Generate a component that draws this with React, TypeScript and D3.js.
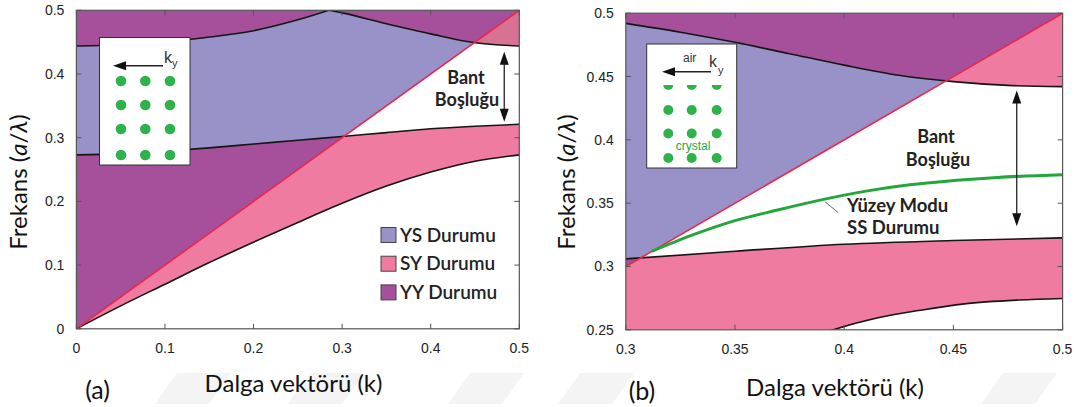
import React from 'react';
import * as d3 from 'd3';

type Pt = [number, number];

// Fill colours for the three kinds of states
const COLOR_YS = '#9892c8';
const COLOR_SY = '#ef7ba1';
const COLOR_SY_TOP_A = '#d87293';
const COLOR_YY = '#a64f9b';
const COLOR_LIGHT = '#e8284c';
const COLOR_SURFACE = '#25a63d';
const COLOR_DOT = '#2db34a';

// ---- Panel (a): full projected band structure ----
const kA = [0, 0.05, 0.1, 0.15, 0.2, 0.25, 0.3, 0.35, 0.4, 0.45, 0.5];
const lowerA = [0, 0.036, 0.07, 0.104, 0.136, 0.167, 0.197, 0.224, 0.246, 0.263, 0.273];
const midA = [0.273, 0.275, 0.279, 0.284, 0.29, 0.296, 0.302, 0.308, 0.314, 0.318, 0.321];
const kTopA1 = [0, 0.05, 0.1, 0.15, 0.2, 0.25, 0.285];
const topA1 = [0.444, 0.446, 0.45, 0.458, 0.468, 0.485, 0.5];
const kTopA2 = [0.285, 0.3, 0.35, 0.4, 0.45, 0.5];
const topA2 = [0.5, 0.496, 0.479, 0.463, 0.449, 0.444];
const ticksKA = [0, 0.1, 0.2, 0.3, 0.4, 0.5];
const ticksFA = [0, 0.1, 0.2, 0.3, 0.4, 0.5];
const gapArrowA = { k: 0.483, f0: 0.325, f1: 0.435 };

// ---- Panel (b): close-up with the surface mode ----
const kTopB = [0.3, 0.325, 0.35, 0.375, 0.4, 0.425, 0.45, 0.475, 0.5];
const topB = [0.492, 0.485, 0.477, 0.468, 0.459, 0.451, 0.446, 0.443, 0.442];
const kMidB = [0.3, 0.35, 0.4, 0.45, 0.5];
const midB = [0.306, 0.312, 0.3175, 0.3205, 0.3226];
const kLowB = [0.385, 0.395, 0.415, 0.435, 0.455, 0.48, 0.5];
const lowB = [0.244, 0.25, 0.2593, 0.2655, 0.2705, 0.2735, 0.2747];
const kSurf = [0.312, 0.33, 0.35, 0.37, 0.39, 0.41, 0.43, 0.45, 0.47, 0.5];
const surf = [0.312, 0.3245, 0.3362, 0.3448, 0.3528, 0.3595, 0.3645, 0.3678, 0.3703, 0.3725];
const ticksKB = [0.3, 0.35, 0.4, 0.45, 0.5];
const ticksFB = [0.25, 0.3, 0.35, 0.4, 0.45, 0.5];
const gapArrowB = { k: 0.479, f0: 0.3317, f1: 0.439 };

const legendItems = ['YS Durumu', 'SY Durumu', 'YY Durumu'];
const legendColors = [COLOR_YS, COLOR_SY, COLOR_YY];

const BIG_FONT = 'Lato, "Open Sans", sans-serif';
const TICK_FONT = '"Liberation Sans", Arial, sans-serif';

const zip = (ks: number[], fs: number[]): Pt[] => ks.map((k, i) => [k, fs[i]] as Pt);

interface PanelProps {
  id: string;
  kDomain: [number, number];
  fDomain: [number, number];
  xRange: [number, number];
  yRange: [number, number];
  lower: Pt[];
  mid: Pt[];
  tops: Pt[][];
  topPink: string;
  ticksK: number[];
  ticksF: number[];
  surface?: Pt[];
  arrow: { k: number; f0: number; f1: number };
}

function DoubleArrow({ x, y0, y1 }: { x: number; y0: number; y1: number }) {
  const hl = 13;
  const hw = 4.5;
  return (
    <g>
      <line x1={x} x2={x} y1={y0 + hl - 2} y2={y1 - hl + 2} stroke="#222" strokeWidth={1.3} />
      <polygon points={`${x},${y0} ${x - hw},${y0 + hl} ${x + hw},${y0 + hl}`} fill="#111" />
      <polygon points={`${x},${y1} ${x - hw},${y1 - hl} ${x + hw},${y1 - hl}`} fill="#111" />
    </g>
  );
}

function Panel(p: PanelProps) {
  const x = d3.scaleLinear().domain(p.kDomain).range(p.xRange);
  const y = d3.scaleLinear().domain(p.fDomain).range(p.yRange);
  const [k0, k1] = p.kDomain;
  const [f0, f1] = p.fDomain;
  const left = p.xRange[0];
  const right = p.xRange[1];
  const top = p.yRange[1];
  const bottom = p.yRange[0];

  const areaAbove = d3
    .area<Pt>()
    .x((d) => x(d[0]))
    .y0(top - 2)
    .y1((d) => y(d[1]))
    .curve(d3.curveMonotoneX);
  const areaBelow = d3
    .area<Pt>()
    .x((d) => x(d[0]))
    .y0(bottom + 2)
    .y1((d) => y(d[1]))
    .curve(d3.curveMonotoneX);
  const line = d3
    .line<Pt>()
    .x((d) => x(d[0]))
    .y((d) => y(d[1]))
    .curve(d3.curveMonotoneX);

  const poly = (pts: Pt[]) => pts.map((d) => `${x(d[0])},${y(d[1])}`).join(' ');
  // states above the light line (f > k) and below it (f < k)
  const abovePts: Pt[] = [
    [k0, k0],
    [k0, f1],
    [k1, f1],
  ];
  const belowPts: Pt[] = [
    [k0, f0],
    [k0, k0],
    [k1, k1],
    [k1, f0],
  ];
  const clipPlot = `${p.id}-plot`;
  const clipAbove = `${p.id}-above`;
  const clipBelow = `${p.id}-below`;

  const tick = 5;
  const axisColor = '#555';

  return (
    <g>
      <defs>
        <clipPath id={clipPlot}>
          <rect x={left} y={top} width={right - left} height={bottom - top} />
        </clipPath>
        <clipPath id={clipAbove}>
          <polygon points={poly(abovePts)} />
        </clipPath>
        <clipPath id={clipBelow}>
          <polygon points={poly(belowPts)} />
        </clipPath>
      </defs>
      <g clipPath={`url(#${clipPlot})`}>
        <rect x={left} y={top} width={right - left} height={bottom - top} fill="#fff" />
        {/* gap between the two bands: only guided states above the light line */}
        <g clipPath={`url(#${clipAbove})`}>
          <path d={areaAbove(p.mid) ?? ''} fill={COLOR_YS} />
        </g>
        {/* upper band */}
        {p.tops.map((t, i) => (
          <g key={`t${i}`}>
            <g clipPath={`url(#${clipBelow})`}>
              <path d={areaAbove(t) ?? ''} fill={p.topPink} />
            </g>
            <g clipPath={`url(#${clipAbove})`}>
              <path d={areaAbove(t) ?? ''} fill={COLOR_YY} />
            </g>
          </g>
        ))}
        {/* lower band */}
        <g clipPath={`url(#${clipBelow})`}>
          <path d={areaBelow(p.mid) ?? ''} fill={COLOR_SY} />
        </g>
        <g clipPath={`url(#${clipAbove})`}>
          <path d={areaBelow(p.mid) ?? ''} fill={COLOR_YY} />
        </g>
        <path d={areaBelow(p.lower) ?? ''} fill="#fff" />

        {/* band edges */}
        <path d={line(p.lower) ?? ''} fill="none" stroke="#161616" strokeWidth={1.6} />
        <path d={line(p.mid) ?? ''} fill="none" stroke="#161616" strokeWidth={1.6} />
        {p.tops.map((t, i) => (
          <path key={`l${i}`} d={line(t) ?? ''} fill="none" stroke="#161616" strokeWidth={1.6} />
        ))}
        {/* light line */}
        <line x1={x(k0)} y1={y(k0)} x2={x(k1)} y2={y(k1)} stroke={COLOR_LIGHT} strokeWidth={1.6} />
        {p.surface && (
          <path d={line(p.surface) ?? ''} fill="none" stroke={COLOR_SURFACE} strokeWidth={3} />
        )}
      </g>

      {/* frame and inward ticks */}
      <rect x={left} y={top} width={right - left} height={bottom - top} fill="none" stroke={axisColor} strokeWidth={1.2} />
      {p.ticksK.map((v) => (
        <g key={`kx${v}`}>
          <line x1={x(v)} x2={x(v)} y1={bottom} y2={bottom - tick} stroke={axisColor} />
          <line x1={x(v)} x2={x(v)} y1={top} y2={top + tick} stroke={axisColor} />
          <text x={x(v)} y={bottom + 24} textAnchor="middle" fontFamily={TICK_FONT} fontSize={14} fill="#222">
            {String(v)}
          </text>
        </g>
      ))}
      {p.ticksF.map((v) => (
        <g key={`fy${v}`}>
          <line x1={left} x2={left + tick} y1={y(v)} y2={y(v)} stroke={axisColor} />
          <line x1={right} x2={right - tick} y1={y(v)} y2={y(v)} stroke={axisColor} />
          <text x={left - 12} y={y(v) + 5} textAnchor="end" fontFamily={TICK_FONT} fontSize={14} fill="#222">
            {String(v)}
          </text>
        </g>
      ))}

      <DoubleArrow x={x(p.arrow.k)} y0={y(p.arrow.f1)} y1={y(p.arrow.f0)} />
    </g>
  );
}

function Watermark() {
  const shapes = [155, 288, 448, 558, 981];
  return (
    <g>
      {shapes.map((sx) => (
        <polygon
          key={sx}
          points={`${sx + 22},373 ${sx + 76},373 ${sx + 54},404 ${sx},404`}
          fill="#f4f4f4"
        />
      ))}
    </g>
  );
}

function Dots({ xs, ys, r }: { xs: number[]; ys: number[]; r: number }) {
  return (
    <g>
      {ys.map((cy) =>
        xs.map((cx) => <circle key={`${cx}-${cy}`} cx={cx} cy={cy} r={r} fill={COLOR_DOT} />)
      )}
    </g>
  );
}

function YTitle({ x, y }: { x: number; y: number }) {
  return (
    <text
      transform={`translate(${x},${y}) rotate(-90)`}
      textAnchor="middle"
      fontFamily={BIG_FONT}
      fontSize={24}
      fill="#111"
    >
      Frekans (<tspan fontStyle="italic">a</tspan>/<tspan fontStyle="italic">λ</tspan>)
    </text>
  );
}

export default function App() {
  const panelA = (
    <Panel
      id="pa"
      kDomain={[0, 0.5]}
      fDomain={[0, 0.5]}
      xRange={[76.4, 519.3]}
      yRange={[328.8, 10.3]}
      lower={zip(kA, lowerA)}
      mid={zip(kA, midA)}
      tops={[zip(kTopA1, topA1), zip(kTopA2, topA2)]}
      topPink={COLOR_SY_TOP_A}
      ticksK={ticksKA}
      ticksF={ticksFA}
      arrow={gapArrowA}
    />
  );
  const panelB = (
    <Panel
      id="pb"
      kDomain={[0.3, 0.5]}
      fDomain={[0.25, 0.5]}
      xRange={[625.8, 1062.6]}
      yRange={[329.8, 13.2]}
      lower={zip(kLowB, lowB)}
      mid={zip(kMidB, midB)}
      tops={[zip(kTopB, topB)]}
      topPink={COLOR_SY}
      ticksK={ticksKB}
      ticksF={ticksFB}
      surface={zip(kSurf, surf)}
      arrow={gapArrowB}
    />
  );

  return (
    <svg
      width={1074}
      height={407}
      viewBox="0 0 1074 407"
      style={{ position: 'absolute', left: 0, top: 0, background: '#fff' }}
    >
      <rect width={1074} height={407} fill="#fff" />
      <Watermark />
      {panelA}
      {panelB}

      {/* panel (a) inset: lattice and propagation direction */}
      <g>
        <rect x={99.5} y={37.5} width={90.5} height={127.5} fill="#fff" stroke="#333" strokeWidth={1} />
        <line x1={163} x2={124} y1={65.7} y2={65.7} stroke="#222" strokeWidth={1.4} />
        <polygon points="113,65.7 126,61.2 126,70.2" fill="#111" />
        <text x={164} y={63.3} fontFamily={TICK_FONT} fontSize={16} fill="#333">k</text>
        <text x={172} y={66.5} fontFamily={TICK_FONT} fontSize={11} fill="#333">y</text>
        <Dots xs={[121, 145.3, 170]} ys={[81, 105, 129, 155]} r={5.3} />
      </g>

      {/* panel (b) inset: air above the truncated crystal */}
      <g>
        <defs>
          <clipPath id="insetB">
            <rect x={646.7} y={85} width={90} height={83} />
          </clipPath>
        </defs>
        <rect x={646.7} y={44} width={90} height={124} fill="#fff" stroke="#333" strokeWidth={1} />
        <text x={683} y={61.5} fontFamily={TICK_FONT} fontSize={12} fill="#333">air</text>
        <line x1={711} x2={673} y1={71.7} y2={71.7} stroke="#222" strokeWidth={1.4} />
        <polygon points="662,71.7 675,67.2 675,76.2" fill="#111" />
        <text x={709} y={66.5} fontFamily={TICK_FONT} fontSize={16} fill="#333">k</text>
        <text x={718} y={73.5} fontFamily={TICK_FONT} fontSize={11} fill="#333">y</text>
        <g clipPath="url(#insetB)">
          <Dots xs={[668.3, 691.7, 716.7]} ys={[85, 110, 133.5, 158]} r={5} />
        </g>
        <text x={693} y={150} textAnchor="middle" fontFamily={TICK_FONT} fontSize={12} fill={COLOR_SURFACE}>
          crystal
        </text>
      </g>

      {/* legend of panel (a) */}
      <g>
        {legendItems.map((label, i) => {
          const cy = 235 + i * 28.7;
          return (
            <g key={label}>
              <rect x={381} y={cy - 7.5} width={15} height={15} fill={legendColors[i]} stroke="#444" strokeWidth={1} />
              <text x={400} y={cy + 6.5} fontFamily={BIG_FONT} fontSize={19} fontWeight={600} fill="#222">
                {label}
              </text>
            </g>
          );
        })}
      </g>

      {/* band gap annotations */}
      <g fontFamily={BIG_FONT} fontWeight={700} fontSize={18} fill="#222" textAnchor="middle">
        <text x={466} y={83.5}>Bant</text>
        <text x={467} y={105.5}>Boşluğu</text>
        <text x={936} y={143}>Bant</text>
        <text x={938} y={165.5}>Boşluğu</text>
      </g>
      <g fontFamily={BIG_FONT} fontWeight={700} fontSize={18.5} fill="#222">
        <text x={847} y={212}>Yüzey Modu</text>
        <text x={847} y={234}>SS Durumu</text>
      </g>
      <line x1={825} y1={201.7} x2={838.3} y2={212.7} stroke="#666" strokeWidth={1} />

      {/* axis titles */}
      <YTitle x={27} y={182} />
      <YTitle x={575} y={182} />
      <g fontFamily={BIG_FONT} fontSize={24} fill="#111" textAnchor="middle">
        <text x={293.5} y={392}>Dalga vektörü (k)</text>
        <text x={835} y={396}>Dalga vektörü (k)</text>
      </g>
      <g fontFamily={BIG_FONT} fontSize={25} fill="#111" textAnchor="middle">
        <text x={97.6} y={399}>(a)</text>
        <text x={642} y={400}>(b)</text>
      </g>
    </svg>
  );
}
